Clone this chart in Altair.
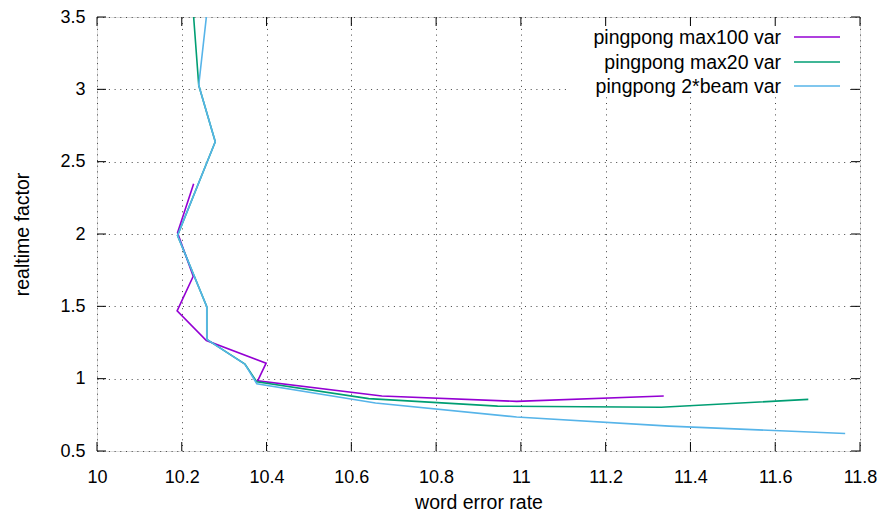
import altair as alt
import pandas as pd

# ---------------- data ----------------
series_names = ["pingpong max100 var", "pingpong max20 var", "pingpong 2*beam var"]
series_colors = ["#9400d3", "#009e73", "#56b4e9"]

max100_wer = [10.228, 10.190, 10.227, 10.189, 10.258, 10.399, 10.379, 10.672, 10.990, 11.337]
max100_rtf = [2.347, 2.008, 1.708, 1.469, 1.263, 1.107, 0.985, 0.880, 0.843, 0.880]

max20_wer = [10.228, 10.240, 10.279, 10.190, 10.259, 10.259, 10.349, 10.377, 10.641, 10.945, 11.331, 11.678]
max20_rtf = [3.500, 3.028, 2.638, 1.990, 1.497, 1.272, 1.100, 0.978, 0.862, 0.810, 0.802, 0.857]

beam_wer = [10.258, 10.240, 10.279, 10.190, 10.259, 10.259, 10.349, 10.377, 10.657, 10.990, 11.350, 11.765]
beam_rtf = [3.500, 3.028, 2.638, 1.990, 1.497, 1.272, 1.100, 0.965, 0.832, 0.735, 0.672, 0.621]

x_ticks = [10.0, 10.2, 10.4, 10.6, 10.8, 11.0, 11.2, 11.4, 11.6, 11.8]
y_ticks = [0.5, 1.0, 1.5, 2.0, 2.5, 3.0, 3.5]

# ---------------- layout ----------------
W, H = 763, 434
FONT = "Liberation Sans"
FS = 18      # tick labels
FST = 19.5   # titles and key

rows = []
for name, xs, ys in [(series_names[0], max100_wer, max100_rtf),
                     (series_names[1], max20_wer, max20_rtf),
                     (series_names[2], beam_wer, beam_rtf)]:
    for i, (a, b) in enumerate(zip(xs, ys)):
        rows.append({"series": name, "wer": a, "rtf": b, "idx": i})
df = pd.DataFrame(rows)

xscale = alt.Scale(domain=[10, 11.8], nice=False, zero=False)
yscale = alt.Scale(domain=[0.5, 3.5], nice=False, zero=False)
color_scale = alt.Scale(domain=series_names, range=series_colors)

xaxis = alt.Axis(values=x_ticks, format="~g", ticks=False, domain=False,
                 grid=True, gridDash=[1, 4.7], gridColor="#444", gridWidth=1,
                 labelFont=FONT, labelFontSize=FS, labelColor="#000", labelPadding=17,
                 labelFlush=False, labelOverlap=False,
                 title="word error rate", titleFont=FONT, titleFontSize=FST,
                 titleFontWeight="normal", titleColor="#000",
                 titleX=W / 2, titleY=51, titleBaseline="middle", titleAnchor="middle")
yaxis = alt.Axis(values=y_ticks, format="~g", ticks=False, domain=False,
                 grid=True, gridDash=[1, 4.7], gridColor="#444", gridWidth=1,
                 labelFont=FONT, labelFontSize=FS, labelColor="#000", labelPadding=12,
                 labelFlush=False, labelOverlap=False,
                 title="realtime factor", titleFont=FONT, titleFontSize=FST,
                 titleFontWeight="normal", titleColor="#000",
                 titleX=-75, titleY=H / 2, titleBaseline="middle", titleAngle=-90,
                 titleAlign="center")

base = alt.Chart(df)

# white key background (opaque key box)
key_bg = alt.Chart(pd.DataFrame({"k": [0]})).mark_rect(color="white").encode(
    x=alt.value(473), x2=alt.value(753), y=alt.value(1), y2=alt.value(80))

lines = base.mark_line(strokeWidth=1.6, clip=True).encode(
    x=alt.X("wer:Q", scale=xscale, axis=xaxis),
    y=alt.Y("rtf:Q", scale=yscale, axis=yaxis),
    color=alt.Color("series:N", scale=color_scale, legend=None),
    order=alt.Order("idx:Q"),
    detail="series:N",
)

xt = pd.DataFrame({"v": x_ticks})
yt = pd.DataFrame({"v": y_ticks})
TL = 9
tick_b = alt.Chart(xt).mark_rule(color="black", strokeWidth=1).encode(
    x=alt.X("v:Q", scale=xscale), y=alt.value(H), y2=alt.value(H - TL))
tick_t = alt.Chart(xt).mark_rule(color="black", strokeWidth=1).encode(
    x=alt.X("v:Q", scale=xscale), y=alt.value(0), y2=alt.value(TL))
tick_l = alt.Chart(yt).mark_rule(color="black", strokeWidth=1).encode(
    y=alt.Y("v:Q", scale=yscale), x=alt.value(0), x2=alt.value(TL))
tick_r = alt.Chart(yt).mark_rule(color="black", strokeWidth=1).encode(
    y=alt.Y("v:Q", scale=yscale), x=alt.value(W), x2=alt.value(W - TL))

key_layers = []
row_y = [20, 45, 69]
for name, col, ry in zip(series_names, series_colors, row_y):
    kd = pd.DataFrame({"series": [name]})
    key_layers.append(alt.Chart(kd).mark_text(align="right", baseline="middle",
                                              font=FONT, fontSize=FST, color="black").encode(
        text="series:N", x=alt.value(684), y=alt.value(ry + 1)))
    key_layers.append(alt.Chart(kd).mark_rule(color=col, strokeWidth=1.6).encode(
        x=alt.value(697), x2=alt.value(743), y=alt.value(ry)))

chart = alt.layer(key_bg, lines, tick_b, tick_t, tick_l, tick_r, *key_layers).properties(
    width=W, height=H,
    autosize=alt.AutoSizeParams(type="none"),
    padding={"left": 89, "top": 9, "right": 17, "bottom": 62},
).configure_view(stroke="black", strokeWidth=1.2).configure(background="white")

chart.save("out.html", embed_options={"renderer": "svg", "actions": False})
